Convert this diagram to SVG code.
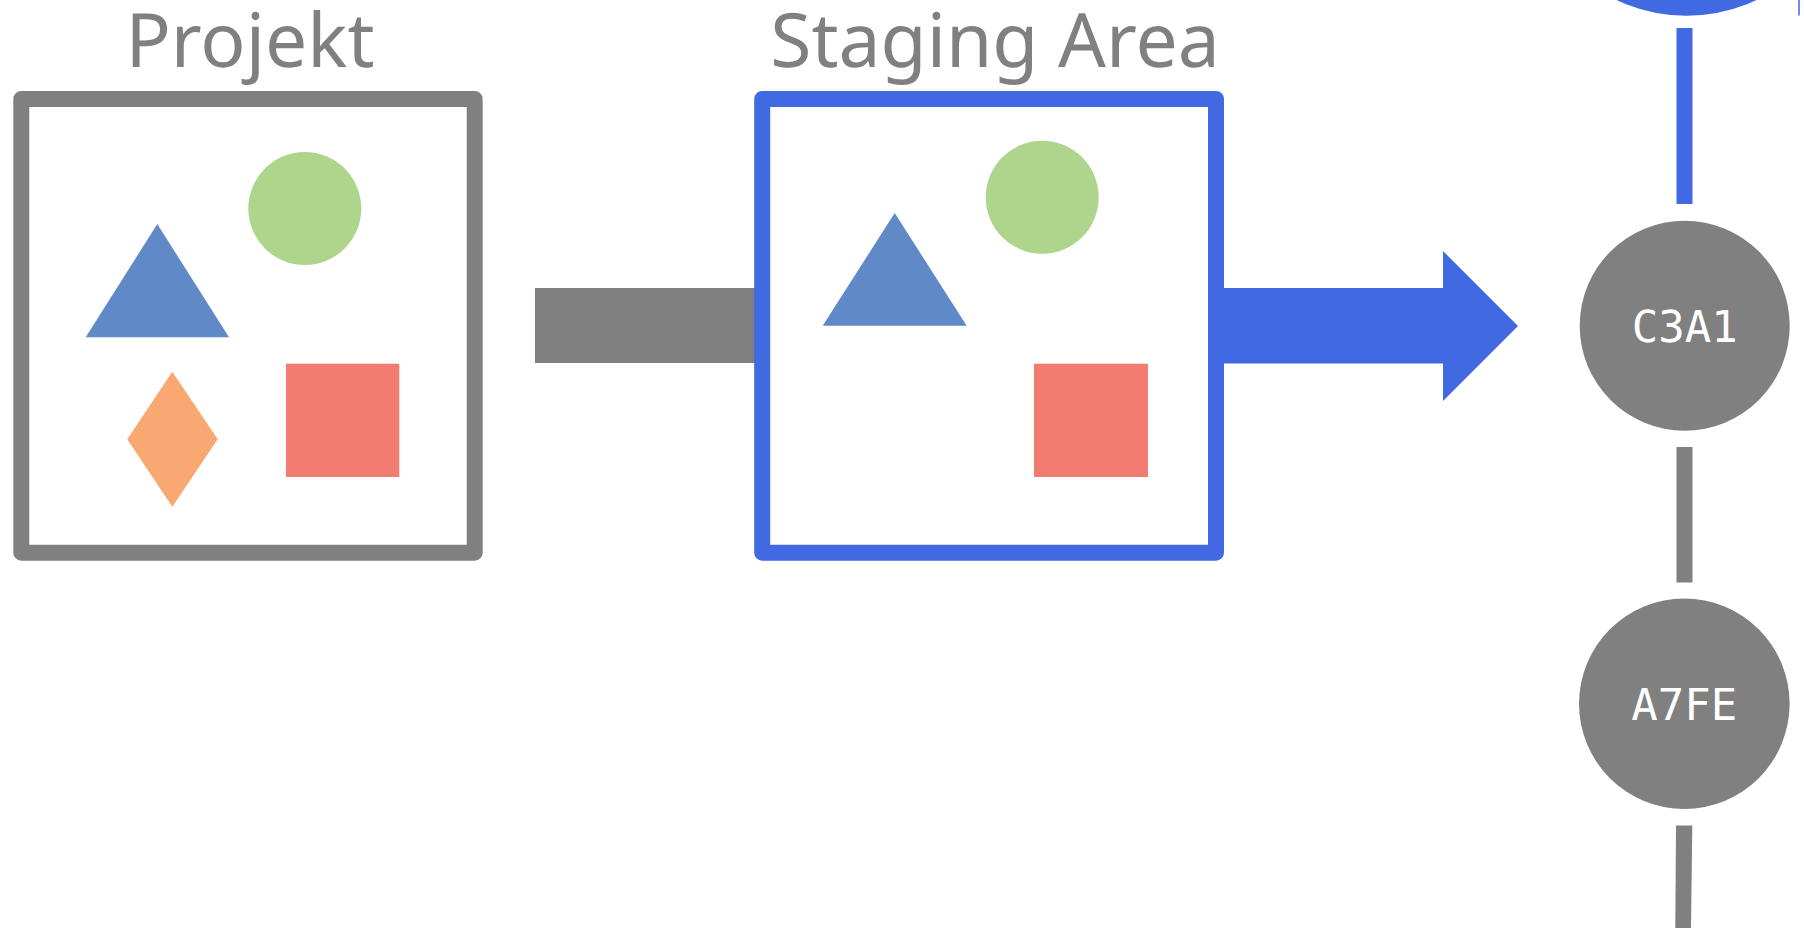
<svg xmlns="http://www.w3.org/2000/svg" width="1804" height="928" viewBox="0 0 1804 928">
<style>
.title{font-family:"Noto Sans","Open Sans",sans-serif;font-size:75px;fill:#808080;text-anchor:middle;text-rendering:geometricPrecision}
.lbl{font-family:"DejaVu Sans Mono","Liberation Mono",monospace;font-size:44px;fill:#ffffff;text-anchor:middle;text-rendering:geometricPrecision}
.box{fill:#ffffff;stroke-width:16;stroke-linejoin:round}
.tri{fill:#5F8AC7}
.circ{fill:#AED58B}
.sq{fill:#F37C70}
.dia{fill:#F8A870}
.commit{fill:#808080}
</style>
<rect width="1804" height="928" fill="#ffffff"/>
<g id="connectors">
  <rect x="535" y="288" width="222" height="75" fill="#808080"/>
  <polygon points="1214,288 1443,288 1443,251 1518,326 1443,401 1443,363.5 1214,363.5" fill="#4169E1"/>
  <rect x="1676.5" y="28" width="16" height="176" fill="#4169E1"/>
  <rect x="1676.5" y="447" width="16" height="135.5" fill="#808080"/>
  <polygon points="1676,825.5 1692.3,825.5 1691,928 1675.3,928" fill="#808080"/>
  <line x1="1799" y1="0" x2="1799" y2="15.5" stroke="#4169E1" stroke-width="1.5"/>
</g>
<g id="projekt">
  <text class="title" x="250" y="66.7">Projekt</text>
  <rect class="box" x="21.3" y="99" width="453.4" height="453.7" stroke="#808080"/>
  <circle class="circ" cx="304.8" cy="208.5" r="56.5"/>
  <polygon class="tri" points="157.3,224 229,337.3 85.7,337.3"/>
  <polygon class="dia" points="172.3,371.7 217.7,439.3 172.3,506.7 127.3,439.3"/>
  <rect class="sq" x="286" y="363.7" width="113.3" height="113.3"/>
</g>
<g id="staging">
  <text class="title" x="995" y="66.7">Staging Area</text>
  <rect class="box" x="762.2" y="99" width="453.8" height="453.7" stroke="#4169E1"/>
  <circle class="circ" cx="1042.2" cy="197.3" r="56.5"/>
  <polygon class="tri" points="894.7,213 966.7,325.7 822.7,325.7"/>
  <rect class="sq" x="1034" y="363.7" width="114" height="113.3"/>
</g>
<g id="head">
  <circle cx="1686.5" cy="-148.3" r="156" fill="#ffffff" stroke="#4169E1" stroke-width="16"/>
</g>
<g id="c3a1">
  <circle class="commit" cx="1684.7" cy="325.7" r="105"/>
  <text class="lbl" x="1684.7" y="342">C3A1</text>
</g>
<g id="a7fe">
  <circle class="commit" cx="1684.3" cy="703.8" r="105.3"/>
  <text class="lbl" x="1684.3" y="720">A7FE</text>
</g>
</svg>
